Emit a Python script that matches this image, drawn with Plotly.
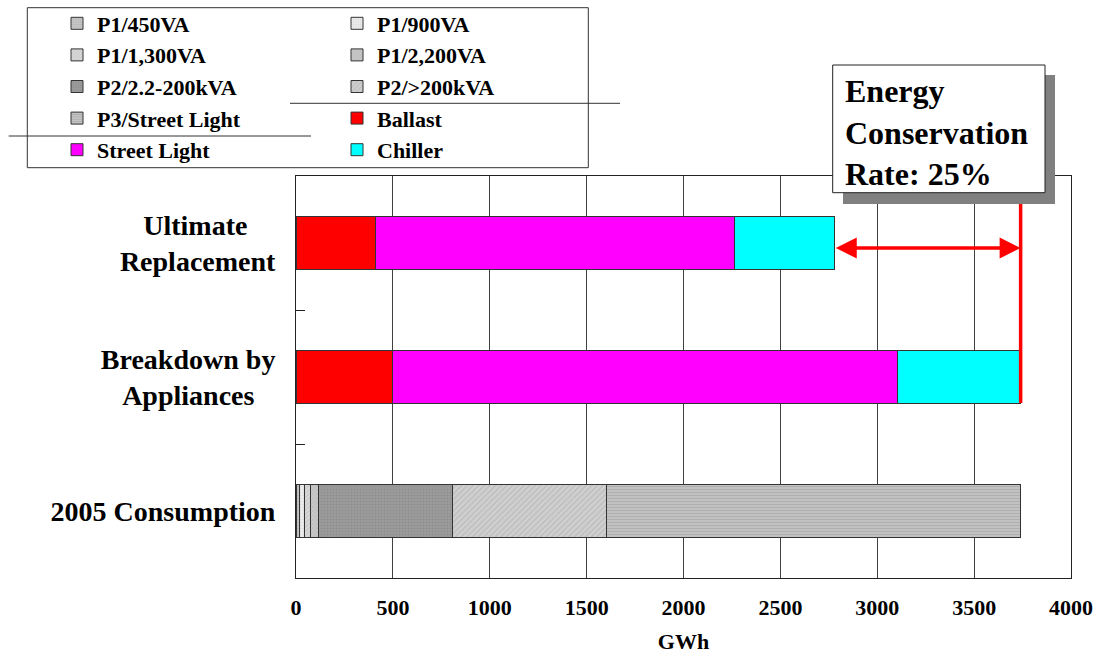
import plotly.graph_objects as go

# ---------------- data ----------------
categories = ["2005 Consumption", "Breakdown by Appliances", "Ultimate Replacement"]
tick_labels = ["2005 Consumption",
               "Breakdown by<br>Appliances\u00a0\u00a0\u00a0",
               "Ultimate\u00a0\u00a0\u00a0\u00a0<br>Replacement"]

tariff_names = ["P1/450VA", "P1/900VA", "P1/1,300VA", "P1/2,200VA",
                "P2/2.2-200kVA", "P2/>200kVA", "P3/Street Light"]
tariff_2005 = [17, 26, 33, 38, 693, 793, 2140]   # GWh, 2005 consumption

appliance_names = ["Ballast", "Street Light", "Chiller"]
ballast = [0, 500, 408]
street_light = [0, 2606, 1857]
chiller = [0, 634, 513]

x_ticks = [0, 500, 1000, 1500, 2000, 2500, 3000, 3500, 4000]
conservation_text = "Energy<br>Conservation<br>Rate: 25%"

# ---------------- geometry (layout only) ----------------
W, H = 1099, 664
L, R, T, B = 296, 1071, 176, 578
PW, PH = R - L, B - T


def px_x(p):
    return (p - L) / PW


def px_y(p):
    return (B - p) / PH


FONT = "Liberation Serif, Times New Roman, serif"

# ---------------- styles ----------------
tariff_styles = {
    "P1/450VA": dict(shape=".", bgcolor="#c8c8c8", fgcolor="#a0a0a0", size=3, solidity=0.4),
    "P1/900VA": dict(shape=".", bgcolor="#ececec", fgcolor="#c8c8c8", size=3, solidity=0.3),
    "P1/1,300VA": dict(shape="/", bgcolor="#d8d8d8", fgcolor="#a8a8a8", size=3, solidity=0.3),
    "P1/2,200VA": dict(shape="x", bgcolor="#c8c8c8", fgcolor="#a0a0a0", size=3, solidity=0.3),
    "P2/2.2-200kVA": dict(shape=".", bgcolor="#a0a0a0", fgcolor="#808080", size=3, solidity=0.5),
    "P2/>200kVA": dict(shape="/", bgcolor="#d0d0d0", fgcolor="#a8a8a8", size=4, solidity=0.35),
    "P3/Street Light": dict(shape="-", bgcolor="#c4c4c4", fgcolor="#9a9a9a", size=3, solidity=0.4),
}
col1 = {"P1/450VA", "P1/1,300VA", "P2/2.2-200kVA", "P3/Street Light", "Street Light"}

fig = go.Figure()

for name, val in zip(tariff_names, tariff_2005):
    st = tariff_styles[name]
    fig.add_trace(go.Bar(
        y=[categories[0]], x=[val], name=name, orientation="h",
        marker=dict(color=st["bgcolor"], line=dict(color="#333333", width=1), pattern=st),
        legend="legend" if name in col1 else "legend2",
    ))

for name, vals, color in zip(appliance_names, [ballast, street_light, chiller],
                             ["#ff0000", "#ff00ff", "#00ffff"]):
    fig.add_trace(go.Bar(
        y=categories, x=vals, name=name, orientation="h",
        marker=dict(color=color, line=dict(color="#333333", width=1)),
        legend="legend" if name in col1 else "legend2",
    ))

total_breakdown = ballast[1] + street_light[1] + chiller[1]
total_ultimate = ballast[2] + street_light[2] + chiller[2]

shapes = [
    # legend frame
    dict(type="rect", xref="paper", yref="paper",
         x0=px_x(27.3), x1=px_x(588.3), y0=px_y(167.7), y1=px_y(7.7),
         line=dict(color="#333333", width=1), fillcolor="rgba(0,0,0,0)"),
    # stray lines in the original
    dict(type="line", xref="paper", yref="paper",
         x0=px_x(290), x1=px_x(620), y0=px_y(103.3), y1=px_y(103.3),
         line=dict(color="#333333", width=1)),
    dict(type="line", xref="paper", yref="paper",
         x0=px_x(8.7), x1=px_x(311), y0=px_y(136), y1=px_y(136),
         line=dict(color="#333333", width=1)),
    # shadow + text box
    dict(type="rect", xref="paper", yref="paper",
         x0=px_x(843), x1=px_x(1055), y0=px_y(204), y1=px_y(75),
         line=dict(width=0), fillcolor="#808080"),
    dict(type="rect", xref="paper", yref="paper",
         x0=px_x(832.7), x1=px_x(1045), y0=px_y(192.7), y1=px_y(65),
         line=dict(color="#222222", width=1), fillcolor="white"),
    # red vertical line at total consumption
    dict(type="line", xref="x", yref="paper",
         x0=total_breakdown, x1=total_breakdown, y0=px_y(403), y1=px_y(204),
         line=dict(color="#ff0000", width=3.5)),
]

annotations = [
    dict(text=conservation_text, xref="paper", yref="paper",
         x=px_x(843), y=px_y(132), xanchor="left", yanchor="middle", align="left",
         showarrow=False, font=dict(family=FONT, size=32, color="black", weight="bold")),
    dict(text="", xref="x", yref="paper", x=total_breakdown, y=px_y(248),
         axref="x", ayref="pixel", ax=total_ultimate, ay=0,
         showarrow=True, arrowside="end+start", arrowhead=2, startarrowhead=2,
         arrowsize=1.2, startarrowsize=1.2, arrowwidth=3.5, arrowcolor="#ff0000",
         standoff=0, startstandoff=0),
]

legend_font = dict(family=FONT, size=22, color="black", weight="bold")

fig.update_layout(
    width=W, height=H,
    margin=dict(l=L, r=W - R, t=T, b=H - B, autoexpand=False),
    paper_bgcolor="white", plot_bgcolor="white",
    font=dict(family=FONT, color="black", weight="bold"),
    barmode="stack", bargap=0.605,
    showlegend=True,
    legend=dict(x=px_x(57), y=px_y(2.5), xanchor="left", yanchor="top",
                bgcolor="rgba(0,0,0,0)", borderwidth=0, font=legend_font,
                itemwidth=30, traceorder="normal", itemclick=False),
    legend2=dict(x=px_x(337), y=px_y(2.5), xanchor="left", yanchor="top",
                 bgcolor="rgba(0,0,0,0)", borderwidth=0, font=legend_font,
                 itemwidth=30, traceorder="normal", itemclick=False),
    xaxis=dict(range=[0, 4000], tickvals=x_ticks, showgrid=True, gridcolor="#404040",
               gridwidth=1, zeroline=False, showline=True, linecolor="#222222",
               linewidth=1, mirror=True, ticks="", ticklabelstandoff=10,
               tickfont=dict(family=FONT, size=22, color="black", weight="bold"),
               title=dict(text="GWh", standoff=14,
                          font=dict(family=FONT, size=22, color="black", weight="bold"))),
    yaxis=dict(type="category", categoryorder="array", categoryarray=categories,
               tickvals=categories, ticktext=tick_labels,
               showline=True, linecolor="#222222", linewidth=1, mirror=True,
               ticks="inside", tickson="boundaries", ticklen=9, tickcolor="#222222",
               showgrid=False, ticklabelstandoff=14,
               tickfont=dict(family=FONT, size=28, color="black", weight="bold")),
    shapes=shapes,
    annotations=annotations,
)

fig.write_html("out.html", config={"displayModeBar": False},
               post_script="document.body.style.margin='0';document.body.style.overflow='hidden';")
